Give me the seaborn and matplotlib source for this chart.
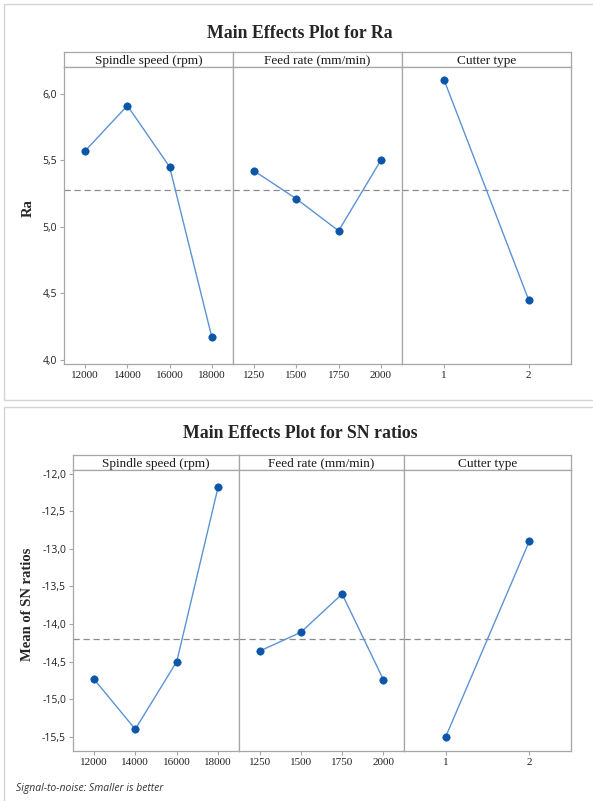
import numpy as np
import pandas as pd
import matplotlib
matplotlib.use("Agg")
import matplotlib.pyplot as plt
from matplotlib.patches import Rectangle
from matplotlib.ticker import FuncFormatter
import seaborn as sns

# factor levels
spindle_levels = [12000, 14000, 16000, 18000]
feed_levels = [1250, 1500, 1750, 2000]
cutter_levels = [1, 2]
factor_names = ["Spindle speed (rpm)", "Feed rate (mm/min)", "Cutter type"]

# means of Ra
ra_spindle = [5.57, 5.91, 5.45, 4.17]
ra_feed = [5.42, 5.21, 4.97, 5.50]
ra_cutter = [6.10, 4.45]
ra_mean = 5.275

# means of SN ratios
sn_spindle = [-14.73, -15.40, -14.50, -12.17]
sn_feed = [-14.36, -14.11, -13.60, -14.74]
sn_cutter = [-15.50, -12.90]
sn_mean = -14.20

sns.set_theme(style="white")
plt.rcParams['font.family'] = ['Liberation Serif', 'DejaVu Serif']

W, H = 593, 801
fig = plt.figure(figsize=(W / 100, H / 100), dpi=100)

LINE = "#5b93d3"
DOT = "#0b56a8"
FRAME = "#a6a6a6"


def rect(x0, y0, x1, y1):
    # pixel box (top-left origin) -> figure fraction
    return [x0 / W, 1 - y1 / H, (x1 - x0) / W, (y1 - y0) / H]


def comma(v, pos):
    return ("%.1f" % v).replace(".", ",")


def draw_chart(title, title_y, ylabel, xs_edges, y_strip, y_top, y_bot,
               series, grand_mean, ylim, yticks, ylab_x, ylab_y):
    levels = [spindle_levels, feed_levels, cutter_levels]
    fig.text(300 / W, 1 - title_y / H, title,
             ha="center", va="center", fontsize=12.8, fontweight="bold")
    for k in range(3):
        x0, x1 = xs_edges[k], xs_edges[k + 1]
        # strip header
        sax = fig.add_axes(rect(x0, y_strip, x1, y_top))
        sax.set_xticks([]); sax.set_yticks([])
        for s in sax.spines.values():
            s.set_color(FRAME); s.set_linewidth(0.9)
        sax.text(0.5, 0.42, factor_names[k], ha="center", va="center",
                 fontsize=9.5, transform=sax.transAxes, color="#1a1a1a")

        ax = fig.add_axes(rect(x0, y_top, x1, y_bot))
        lv = levels[k]
        df = pd.DataFrame({"level": lv, "value": series[k]})
        ax.axhline(grand_mean, color="#8c8c8c", lw=0.9, ls=(0, (5, 3)))
        sns.lineplot(data=df, x="level", y="value", ax=ax, color=LINE, lw=1.0)
        sns.scatterplot(data=df, x="level", y="value", ax=ax, color=DOT,
                        s=28, edgecolor=DOT, linewidth=0.5, zorder=3)
        step = lv[1] - lv[0]
        ax.set_xlim(lv[0] - step / 2, lv[-1] + step / 2)
        ax.set_xticks(lv)
        ax.set_xticklabels([str(v) for v in lv], fontsize=8)
        ax.set_ylim(*ylim)
        ax.set_xlabel(""); ax.set_ylabel("")
        ax.tick_params(axis="x", length=3, width=0.8, color=FRAME, pad=2,
                       bottom=True, labelcolor="#222222")
        if k == 0:
            ax.set_yticks(yticks)
            ax.yaxis.set_major_formatter(FuncFormatter(comma))
            ax.tick_params(axis="y", length=3, width=0.8, color=FRAME, pad=2,
                           left=True, labelcolor="#222222")
            for t in ax.get_yticklabels():
                t.set_fontfamily(["Open Sans", "DejaVu Sans"])
                t.set_fontsize(7.5)
        else:
            ax.set_yticks([])
        for s in ax.spines.values():
            s.set_color(FRAME); s.set_linewidth(0.9)
    fig.text(ylab_x / W, 1 - ylab_y / H, ylabel, rotation=90, ha="center",
             va="center", fontsize=10.5, fontweight="bold")


# outer frames
fig.add_artist(Rectangle((4 / W, 1 - 400 / H), 600 / W, 396 / H,
                         transform=fig.transFigure, fill=False,
                         edgecolor="#d4d4d4", lw=1))
fig.add_artist(Rectangle((4 / W, 1 - 805 / H), 600 / W, 398 / H,
                         transform=fig.transFigure, fill=False,
                         edgecolor="#d4d4d4", lw=1))

draw_chart("Main Effects Plot for Ra", 33, "Ra", [64, 233, 402, 571],
           52, 67, 364, [ra_spindle, ra_feed, ra_cutter], ra_mean,
           (3.97, 6.20), [4.0, 4.5, 5.0, 5.5, 6.0], 28, 208)

draw_chart("Main Effects Plot for SN ratios", 434, "Mean of SN ratios",
           [73, 239, 404, 571], 455, 470, 751,
           [sn_spindle, sn_feed, sn_cutter], sn_mean,
           (-15.69, -11.95),
           [-15.5, -15.0, -14.5, -14.0, -13.5, -13.0, -12.5, -12.0], 28, 604)

fig.text(16 / W, 1 - 788 / H, "Signal-to-noise: Smaller is better",
         ha="left", va="center", fontsize=7.5, style="italic",
         family=["Open Sans", "DejaVu Sans"], color="#333333")

fig.savefig("out.png", dpi=100)
